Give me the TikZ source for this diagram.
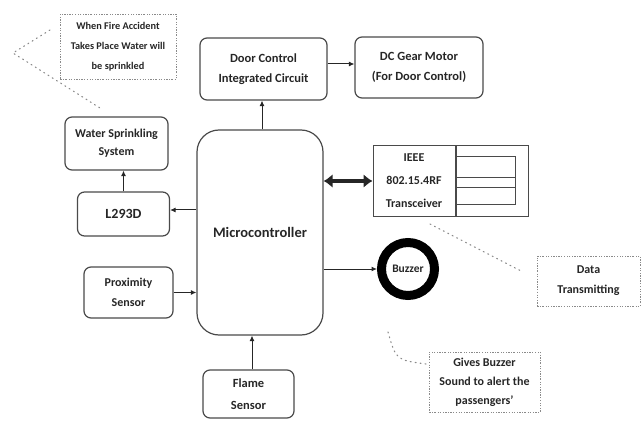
\documentclass[tikz,border=0pt]{standalone}
\usepackage{fontspec}
\setmainfont{Carlito}
\usetikzlibrary{arrows.meta}
\definecolor{edge}{HTML}{4A4A4A}
\definecolor{ink}{HTML}{262626}
\definecolor{notegrey}{HTML}{8A8A8A}
\begin{document}
\begin{tikzpicture}[x=1pt,y=-1pt,
  font=\fontsize{12.5}{20}\selectfont\bfseries,
  block/.style={draw=edge, line width=1.2pt, rounded corners=7pt, align=center,
    text=ink, inner sep=2pt},
  plain/.style={draw=edge, line width=1pt, align=center, text=ink, inner sep=2pt},
  note/.style={draw=notegrey, line width=0.9pt,
    dash pattern=on 1.6pt off 1.6pt on 0.5pt off 1.6pt, align=center,
    text=ink, font=\fontsize{10.3}{20}\selectfont\bfseries, inner sep=2pt},
  arr/.style={draw=ink, line width=1pt, -{Latex[length=5.5pt,width=5pt]}},
  lead/.style={draw=notegrey, line width=1.1pt, dash pattern=on 1pt off 4pt, line cap=round}
]
\useasboundingbox (0,0) rectangle (643,425);

% notes
\node[note, minimum width=116, minimum height=65] (fireNote) at (118,46.5)
  {When Fire Accident\\Takes Place Water will\\be sprinkled};
\node[note, minimum width=103, minimum height=50, font=\fontsize{12}{20}\selectfont\bfseries]
  (dataNote) at (588.5,281) {Data\\Transmitting};
\node[note, minimum width=111, minimum height=60, font=\fontsize{12}{19}\selectfont\bfseries]
  (buzzNote) at (484.5,382) {Gives Buzzer\\Sound to alert the\\passengers'};

% blocks
\node[block, minimum width=127, minimum height=62] (door) at (263.5,69)
  {Door Control\\Integrated Circuit};
\node[block, minimum width=128, minimum height=61] (motor) at (419,67.5)
  {DC Gear Motor\\(For Door Control)};
\node[block, minimum width=103, minimum height=53, font=\fontsize{12}{18}\selectfont\bfseries]
  (water) at (116.5,143.5) {Water Sprinkling\\System};
\node[block, minimum width=92, minimum height=44, font=\fontsize{14}{16}\selectfont\bfseries]
  (driver) at (123.5,214) {L293D};
\node[block, minimum width=89, minimum height=51, font=\fontsize{12}{20}\selectfont\bfseries]
  (prox) at (128.5,292.5) {Proximity\\Sensor};
\node[block, minimum width=91, minimum height=48, font=\fontsize{12.5}{22}\selectfont\bfseries]
  (flame) at (248.5,394) {Flame\\Sensor};
\node[block, rounded corners=22pt, minimum width=126, minimum height=205,
  font=\fontsize{14.5}{16}\selectfont\bfseries] (micro) at (260,232.5)
  {Microcontroller};

% transceiver module
\node[plain, minimum width=82, minimum height=70, font=\fontsize{12}{23}\selectfont\bfseries]
  (ieee) at (414,181) {IEEE\\802.15.4RF\\Transceiver};
\node[plain, anchor=west, minimum width=72, minimum height=70] (rf) at (ieee.east) {};
\draw[edge, line width=1pt]
  ([yshift=-11]rf.north west) -| ([xshift=-13,yshift=12]rf.south east) -- ([yshift=12]rf.south west)
  ([yshift=-32]rf.north west) -- ([xshift=-13,yshift=-32]rf.north east)
  ([yshift=-42]rf.north west) -- ([xshift=-13,yshift=-42]rf.north east);

% buzzer ring
\node[circle, draw=black, line width=9pt, minimum size=53, text=ink,
  font=\fontsize{11.5}{14}\selectfont\bfseries, inner sep=0pt] (buzzer) at (408,269) {Buzzer};

% connectors
\draw[arr] (micro.north -| 262,0) -- (door.south -| 262,0);
\draw[arr] (door.east |- 0,64) -- (motor.west |- 0,64);
\draw[arr] (micro.west |- 0,210) -- (driver.east |- 0,210);
\draw[arr] (driver.north) -- (driver.north |- water.south);
\draw[arr] (prox.east) -- (prox.east -| micro.west);
\draw[arr] (flame.north -| 252,0) -- (micro.south -| 252,0);
\draw[arr] (micro.east |- buzzer.west) -- (buzzer.west);
\draw[ink, line width=4.5pt, {Latex[length=9pt,width=14pt]}-{Latex[length=9pt,width=14pt]}]
  (micro.east |- ieee.west) -- (ieee.west);

% note leaders
\coordinate (fa) at (50,30);
\coordinate (fb) at (13,53);
\coordinate (fc) at (100,108);
\draw[lead] (fa) -- (fb) -- (fc);
\coordinate (da) at (430,224);
\coordinate (db) at (523,272);
\draw[lead] (da) -- (db);
\coordinate (ba) at (388,332);
\coordinate (bb) at (426,364);
\draw[lead] (ba) .. controls (396,360) .. (bb);
\end{tikzpicture}
\end{document}
